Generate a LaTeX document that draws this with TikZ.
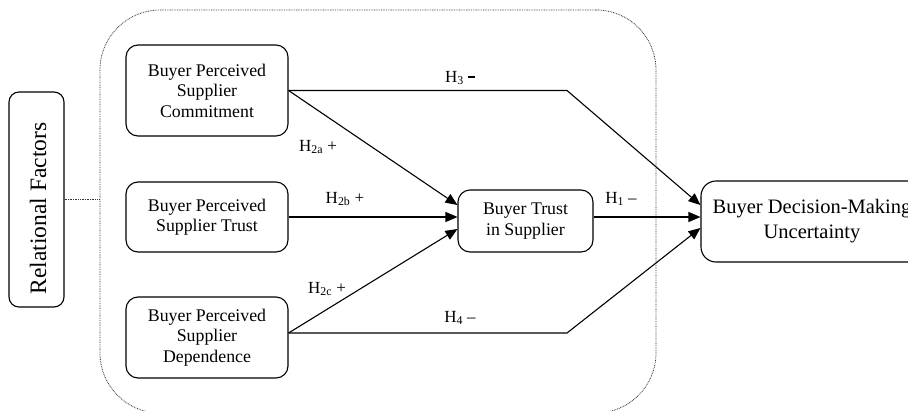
\documentclass[tikz,border=0pt]{standalone}
\usepackage{fontspec}
\setmainfont{Liberation Serif}
\usetikzlibrary{arrows.meta}

\begin{document}
\begin{tikzpicture}[x=1pt,y=-1pt,
  box/.style={draw, line width=1.1pt, rounded corners=12pt, align=center,
    inner sep=0pt, minimum width=162pt, font=\fontsize{17.8}{20.5}\selectfont},
  link/.style={line width=1.1pt, -{Triangle[length=12pt,width=10pt]}},
  dots/.style={line width=0.8pt, draw=black!80, dash pattern=on 0.8pt off 0.9pt},
  lab/.style={font=\fontsize{17}{20}\selectfont, inner sep=0pt}
]
\useasboundingbox (0,0) rectangle (908,410);

% dotted frame around the relational factors
\node[dots, draw, rounded corners=60pt, minimum width=556pt, minimum height=403pt,
  inner sep=0pt] (frame) at (378,211.5) {};

% left label box
\node[draw, line width=1.1pt, rounded corners=10pt, minimum width=55pt,
  minimum height=215pt, inner sep=0pt] (rel) at (36.5,199.5) {};
\node[rotate=90, font=\fontsize{23.5}{26}\selectfont, inner sep=0pt] (reltxt)
  at (38,208.5) {Relational Factors};

% constructs
\node[box, minimum height=91pt] (b1) at (207,90.5)
  {Buyer Perceived\\Supplier\\Commitment};
\node[box, minimum height=70pt] (b2) at (207,217)
  {Buyer Perceived\\Supplier Trust};
\node[box, minimum height=81pt] (b3) at (207,337.5)
  {Buyer Perceived\\Supplier\\Dependence};
\node[box, minimum width=135pt, minimum height=62pt] (trust) at (525.5,221)
  {Buyer Trust\\in Supplier};
\node[box, rounded corners=15pt, minimum width=222pt, minimum height=81pt,
  font=\fontsize{20.5}{25}\selectfont] (dec) at (812,221.5)
  {Buyer Decision-Making\\Uncertainty};

% bends of the direct paths
\coordinate (k3) at (567,90.5);
\coordinate (k4) at (567,333);

% paths
\draw[link] (b1.east) -- (k3) -- ([yshift=16.5pt]dec.west);
\draw[link] ([yshift=4.5pt]b3.east) -- (k4) -- ([yshift=-6.5pt]dec.west);
\draw[link] (b1.east) -- ([yshift=16pt]trust.west);
\draw[link] (b2.east) -- (b2.east -| trust.west);
\draw[link] ([yshift=4.5pt]b3.east) -- ([yshift=-8pt]trust.west);
\draw[link] ([yshift=4pt]trust.east) -- ([yshift=4pt]trust.east -| dec.west);
\draw[dots] (rel.east) -- (rel.east -| frame.west);

% hypothesis labels
\node[lab] (h3) at (460,78) {H\textsubscript{3} \raisebox{4.6pt}{\rule{7pt}{1.8pt}}};
\node[lab] (h2a) at (318,147) {H\textsubscript{2a} +};
\node[lab] (h2b) at (345,199) {H\textsubscript{2b} +};
\node[lab] (h1) at (621,199) {H\textsubscript{1} --};
\node[lab] (h2c) at (327,289) {H\textsubscript{2c} +};
\node[lab] (h4) at (460,318) {H\textsubscript{4} --};
\end{tikzpicture}
\end{document}
